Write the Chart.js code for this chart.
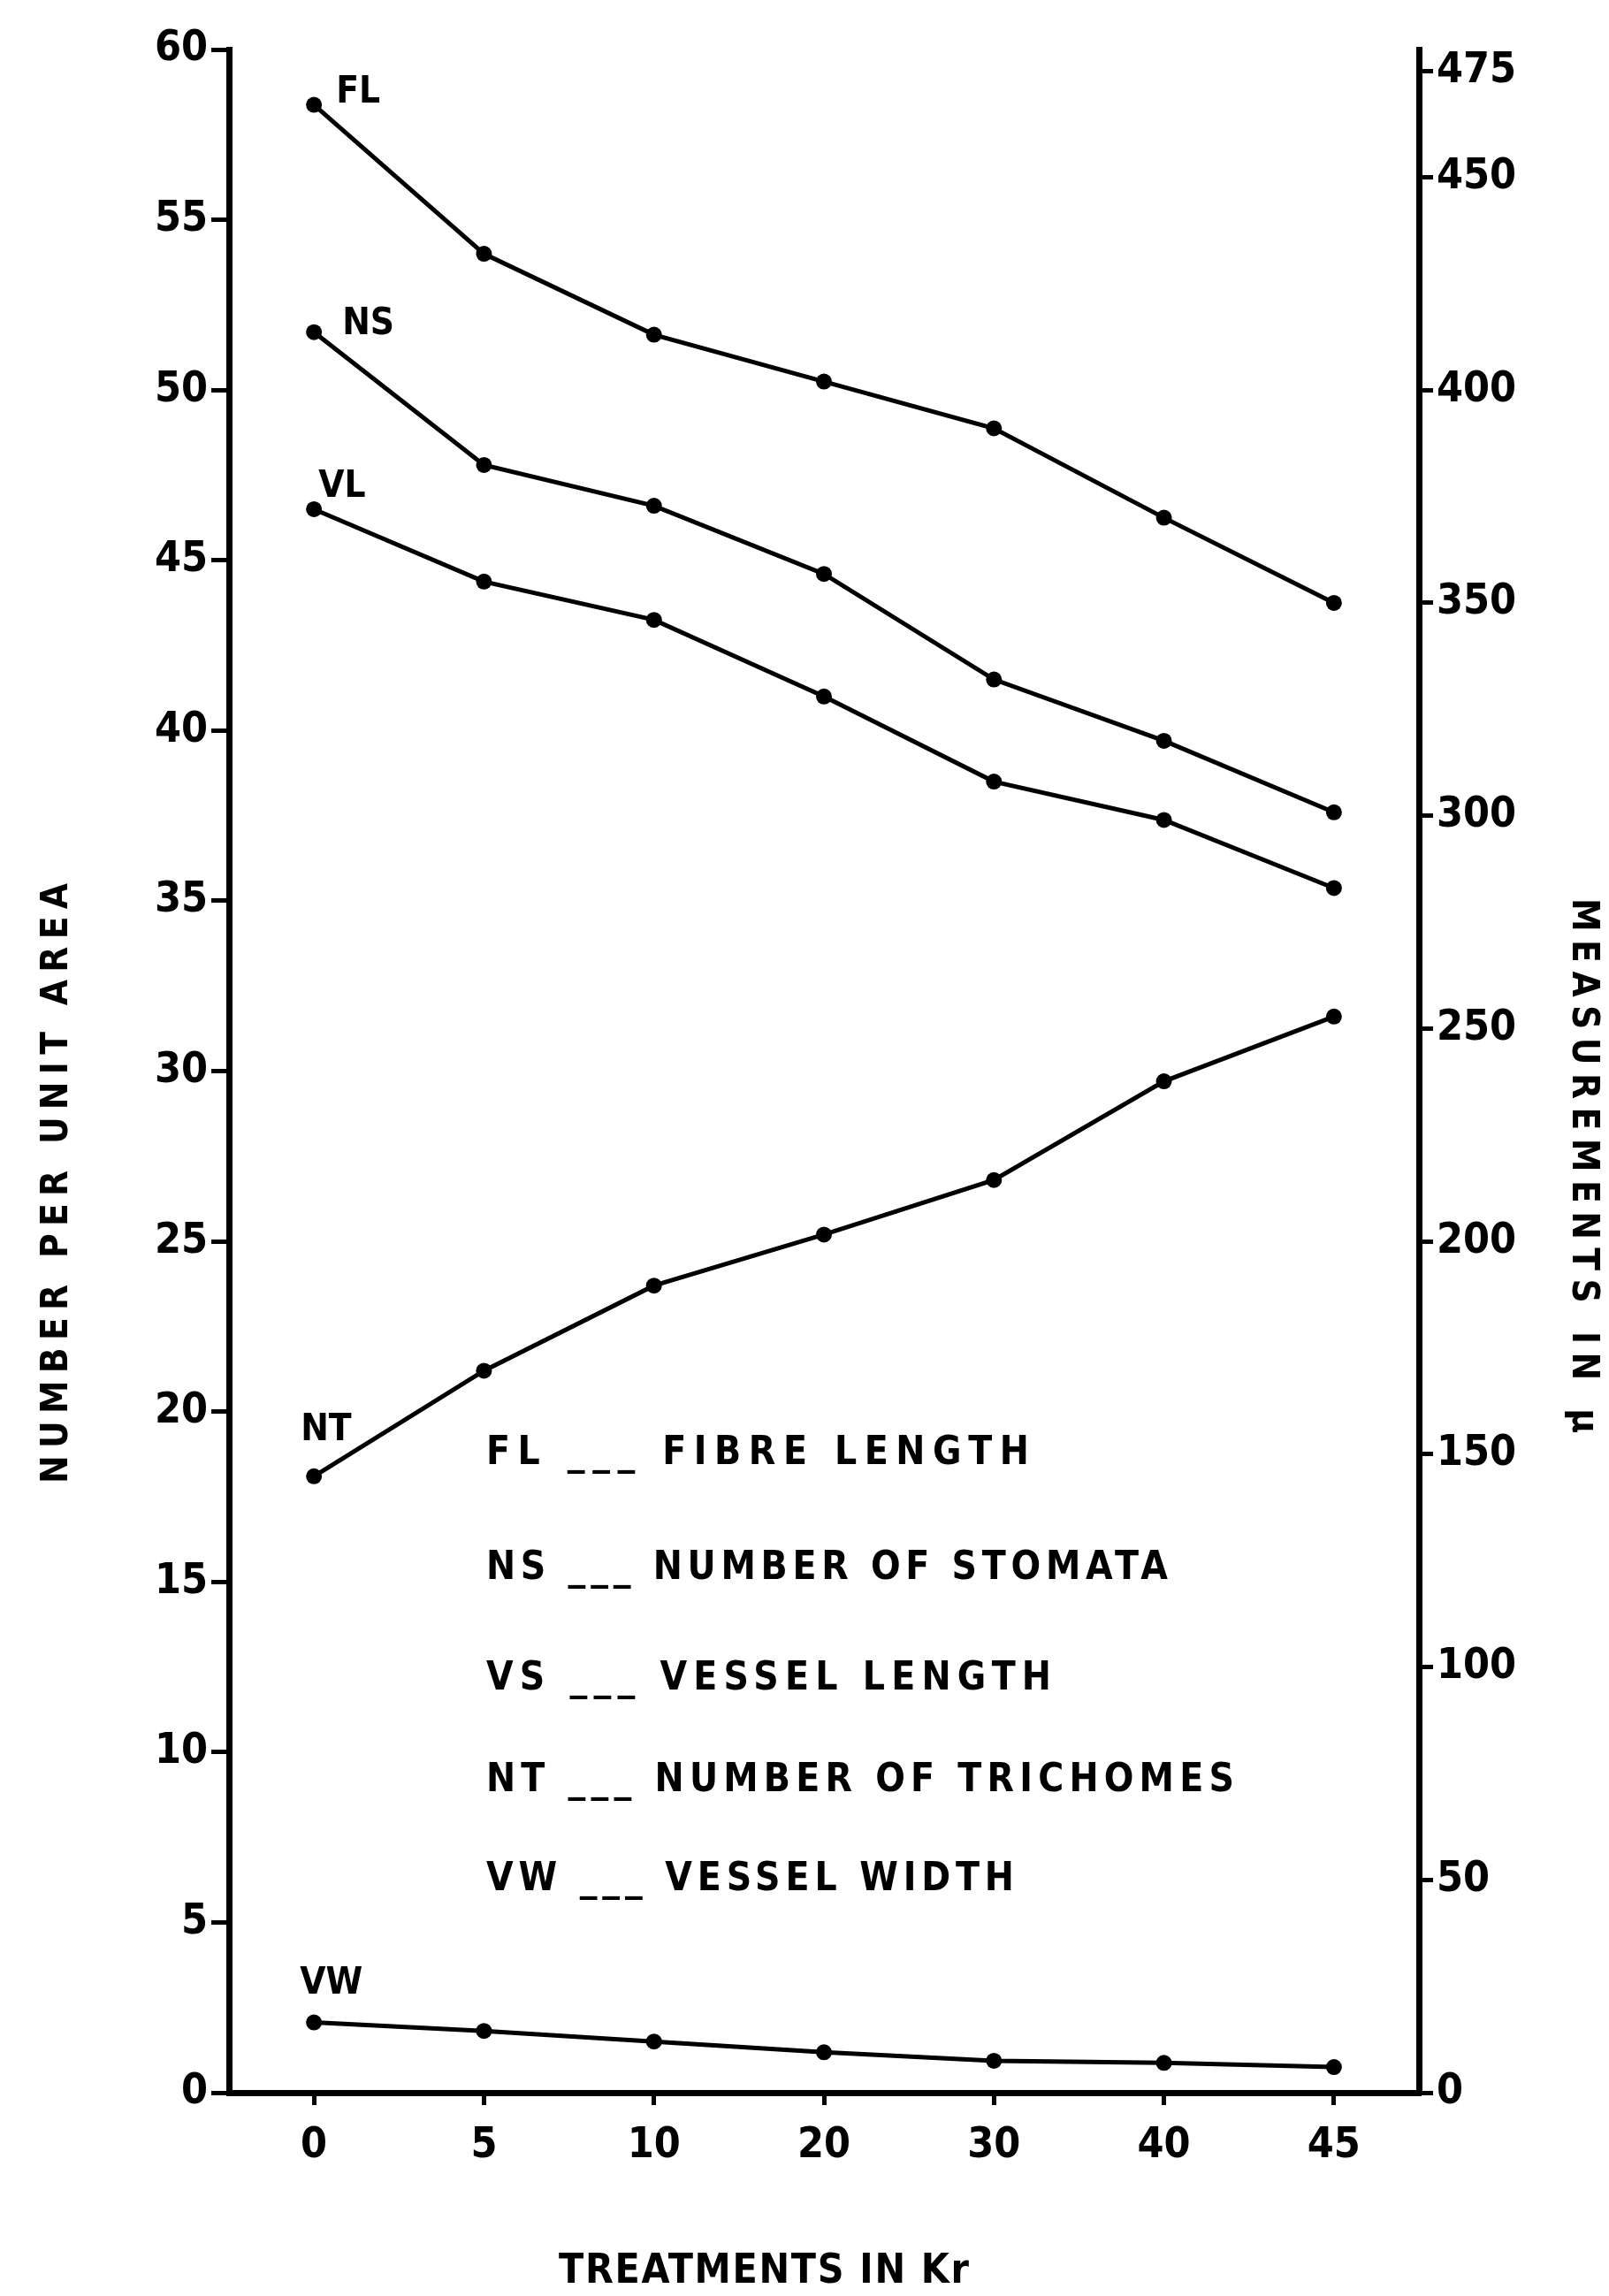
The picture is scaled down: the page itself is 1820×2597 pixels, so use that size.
<!DOCTYPE html>
<html>
<head>
<meta charset="utf-8">
<title>Treatments in Kr</title>
<script src="https://cdn.jsdelivr.net/npm/chart.js@4.4.1/dist/chart.umd.min.js"></script>
<style>
    html, body { margin: 0; padding: 0; background: #fff; overflow: hidden; }
    #wrap { width: 1820px; height: 2597px; position: relative; background: #fff; }
</style>
</head>
<body>
<div id="wrap"><canvas id="chart"></canvas></div>
<script>
// Treatments in kR (plotted evenly spaced, as on the original sheet)
const treatments = ['0', '5', '10', '20', '30', '40', '45'];

// Left axis - number per unit area
const stomataNS = [51.7, 47.8, 46.6, 44.6, 41.5, 39.7, 37.6];
const trichomesNT = [18.1, 21.2, 23.7, 25.2, 26.8, 29.7, 31.6];

// Right axis - measurements in µ
const fibreLengthFL = [467, 432, 413, 402, 391, 370, 350];
const vesselLengthVL = [372, 355, 346, 328, 308, 299, 283];
const vesselWidthVW = [16.5, 14.5, 12, 9.5, 7.5, 7, 6];

// Tick labels
const leftTicks = [0, 5, 10, 15, 20, 25, 30, 35, 40, 45, 50, 55, 60];
const rightTicks = [0, 50, 100, 150, 200, 250, 300, 350, 400, 450, 475];

// Key written inside the plot
const keyLines = [
    'FL ___ FIBRE LENGTH',
    'NS ___ NUMBER OF STOMATA',
    'VS ___ VESSEL LENGTH',
    'NT ___ NUMBER OF TRICHOMES',
    'VW ___ VESSEL WIDTH'
];

const INK = '#000';
const FACE = '"DejaVu Sans Condensed", "DejaVu Sans", sans-serif';

// draw text so that it spans a given width (hand-lettered look)
function spacedText(ctx, text, x, y, width) {
    ctx.letterSpacing = '0px';
    const w = ctx.measureText(text).width;
    const gap = text.length > 1 ? (width - w) / (text.length - 1) : 0;
    ctx.letterSpacing = gap + 'px';
    ctx.fillText(text, x, y);
    ctx.letterSpacing = '0px';
}

// Series tags next to the first point of each line
const tagOffsets = { FL: [25, -13], NS: [32, -9], VL: [5, -25], NT: [-15, -52], VW: [-16, -43] };

const annotations = {
    id: 'annotations',
    afterDatasetsDraw(chart) {
        const ctx = chart.ctx;
        ctx.save();
        ctx.fillStyle = INK;
        ctx.textBaseline = 'middle';
        ctx.textAlign = 'left';

        // series tags
        ctx.font = 'bold 42px ' + FACE;
        chart.data.datasets.forEach((ds, i) => {
            const pt = chart.getDatasetMeta(i).data[0];
            const off = tagOffsets[ds.label];
            ctx.fillText(ds.label, pt.x + off[0], pt.y + off[1]);
        });

        // key
        const keyY = [1645, 1775, 1900, 2015, 2127];
        const keyW = [614, 771, 639, 846, 597];
        ctx.font = 'bold 44px ' + FACE;
        keyLines.forEach((line, i) => spacedText(ctx, line, 550, keyY[i], keyW[i]));

        // axis titles
        ctx.font = 'bold 42px ' + FACE;
        ctx.save();
        ctx.translate(65, 1338);
        ctx.rotate(-Math.PI / 2);
        spacedText(ctx, 'NUMBER PER UNIT AREA', -340, 0, 679);
        ctx.restore();

        ctx.save();
        ctx.translate(1790, 1318);
        ctx.rotate(Math.PI / 2);
        spacedText(ctx, 'MEASUREMENTS IN µ', -302, 0, 605);
        ctx.restore();

        ctx.font = 'bold 46px ' + FACE;
        spacedText(ctx, 'TREATMENTS IN Kr', 632, 2570, 464);
        ctx.restore();
    }
};

function lineSet(label, data, axis) {
    return {
        label: label,
        data: data,
        yAxisID: axis,
        borderColor: INK,
        backgroundColor: INK,
        borderWidth: 5,
        pointRadius: 9,
        pointBackgroundColor: INK,
        pointBorderWidth: 0,
        tension: 0,
        fill: false
    };
}

const tickFont = { family: FACE, size: 48, weight: 'bold' };

new Chart(document.getElementById('chart'), {
    type: 'line',
    data: {
        labels: treatments,
        datasets: [
            lineSet('FL', fibreLengthFL, 'y2'),
            lineSet('NS', stomataNS, 'y'),
            lineSet('VL', vesselLengthVL, 'y2'),
            lineSet('NT', trichomesNT, 'y'),
            lineSet('VW', vesselWidthVW, 'y2')
        ]
    },
    options: {
        responsive: true,
        maintainAspectRatio: false,
        animation: false,
        layout: { padding: { top: 56, left: 0, right: 0, bottom: 0 } },
        plugins: {
            legend: { display: false },
            tooltip: { enabled: false }
        },
        scales: {
            x: {
                type: 'category',
                offset: true,
                grid: { drawOnChartArea: false, offset: false, color: INK, lineWidth: 5, tickLength: 14 },
                border: { color: INK, width: 7 },
                ticks: { color: INK, font: tickFont, padding: 18, maxRotation: 0 },
                afterFit: function(s) { s.height = 230; }
            },
            y: {
                position: 'left',
                min: 0,
                max: 60,
                afterBuildTicks: function(s) { s.ticks = leftTicks.map(v => ({ value: v })); },
                afterFit: function(s) { s.width = 259; },
                grid: { drawOnChartArea: false, color: INK, lineWidth: 5, tickLength: 20 },
                border: { color: INK, width: 7 },
                ticks: { color: INK, font: tickFont, padding: 4 }
            },
            y2: {
                position: 'right',
                min: 0,
                max: 480,
                afterBuildTicks: function(s) { s.ticks = rightTicks.map(v => ({ value: v })); },
                afterFit: function(s) { s.width = 215; },
                grid: { drawOnChartArea: false, color: INK, lineWidth: 5, tickLength: 16 },
                border: { color: INK, width: 7 },
                ticks: { color: INK, font: tickFont, padding: 4 }
            }
        }
    },
    plugins: [annotations]
});
</script>
</body>
</html>
